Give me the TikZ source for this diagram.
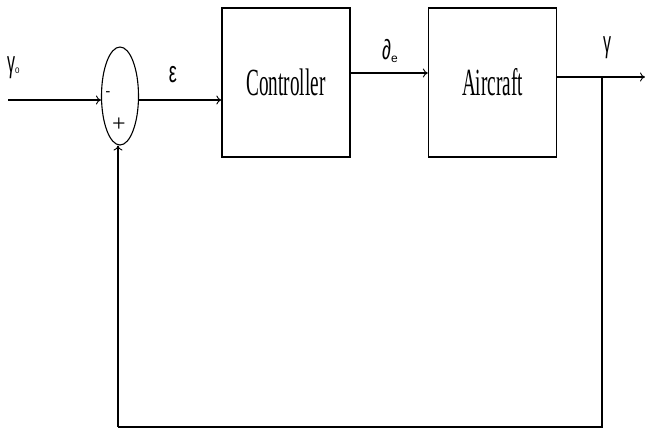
\documentclass[tikz,border=0pt]{standalone}
\usepackage{fontspec}
\setmainfont{Liberation Serif}
\newfontfamily\lsans{Liberation Sans}
\usetikzlibrary{shapes.geometric,arrows.meta}
\begin{document}
\begin{tikzpicture}[x=1pt,y=-1pt,
  blockbox/.style={draw,line width=1.3pt,minimum width=128pt,minimum height=149pt,inner sep=0pt},
  sumnode/.style={draw,ellipse,line width=1.1pt,minimum width=37pt,minimum height=98pt,inner sep=0pt},
  wire/.style={line width=1.4pt},
  arr/.style={wire,-{To[length=5pt,width=9pt,line width=0.9pt]}},
  lbl/.style={inner sep=0pt,font=\lsans\fontsize{20}{20}\selectfont}]
\useasboundingbox (0,0) rectangle (645,429);
\fill[white] (0,0) rectangle (645,429);
\node[sumnode] (sum) at (120,96) {};
\node[blockbox] (ctrl) at (286,82.5) {\scalebox{0.6}[1.2]{\fontsize{32}{32}\selectfont Controller}};
\node[blockbox] (air) at (492.5,82.5) {\scalebox{0.6}[1.2]{\fontsize{32}{32}\selectfont Aircraft}};
\coordinate (in) at (8,100);
\coordinate (out) at (645,77);
\coordinate (br) at (602,77);
\coordinate (c1) at (602,427);
\coordinate (c2) at (118,427);
\draw[arr] (in) -- (sum.west |- in);
\draw[arr] (sum.east |- 0,100) -- (ctrl.west |- 0,100);
\draw[arr] (ctrl.east |- 0,73) -- (air.west |- 0,73);
\draw[arr] (air.east |- out) -- (out);
\draw[wire,line width=1.1pt] (br) -- (c1) -- (c2);
\draw[arr,line width=1.1pt] (c2) -- (sum.south -| c2);
\node[lbl,anchor=west] (g0) at (7,68) {\scalebox{0.8}[1.5]{γ}\raisebox{-1pt}{\fontsize{8}{8}\selectfont 0}};
\node[lbl] (eps) at (173,75) {\scalebox{0.9}[1.5]{ε}};
\node[lbl] (de) at (390,51) {\scalebox{0.9}[1.4]{∂}\raisebox{-3pt}{\fontsize{12}{12}\selectfont e}};
\node[lbl] (g) at (607,48) {\scalebox{0.8}[1.5]{γ}};
\node[inner sep=0pt,font=\bfseries\fontsize{14}{14}\selectfont] (minus) at (108,94) {-};
\node[inner sep=0pt,font=\fontsize{24}{24}\selectfont] (plus) at (119,125) {+};
\end{tikzpicture}
\end{document}
